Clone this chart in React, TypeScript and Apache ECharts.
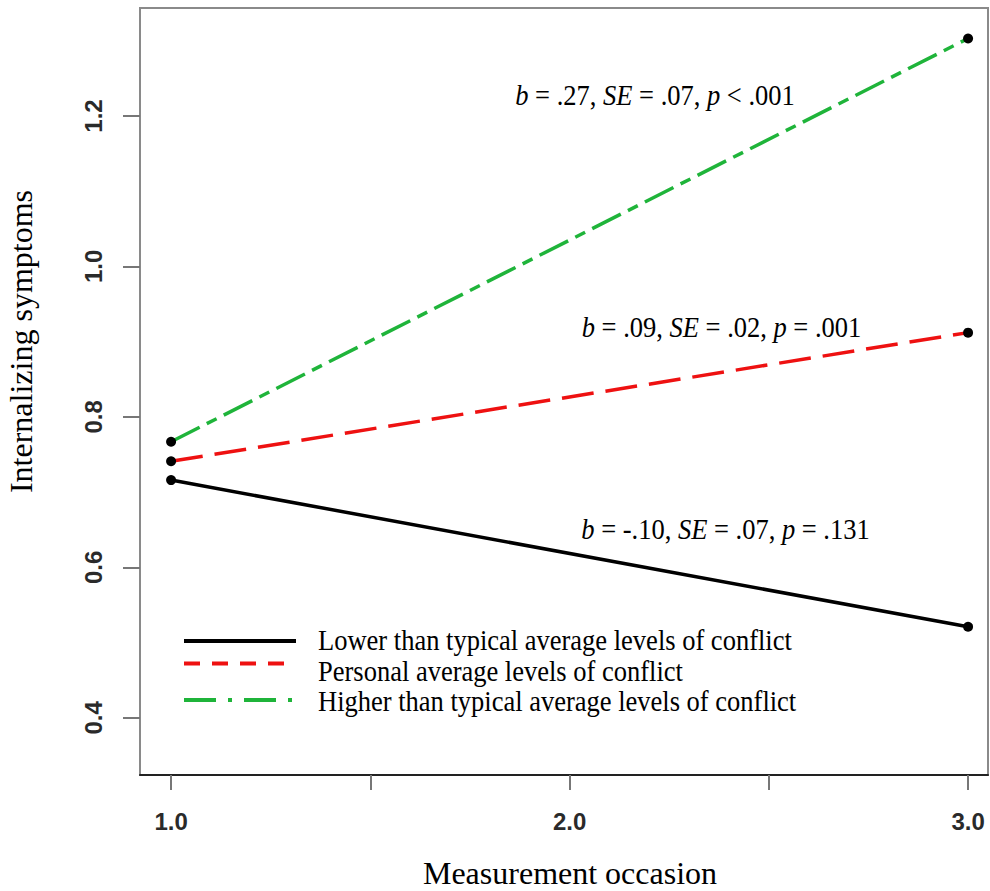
import React, { useEffect, useRef } from "react";
import * as echarts from "echarts";

const occasions = [1, 3];
const seriesNames = [
  "Lower than typical average levels of conflict",
  "Personal average levels of conflict",
  "Higher than typical average levels of conflict",
];
const lowerValues = [0.716, 0.521];
const personalValues = [0.741, 0.912];
const higherValues = [0.767, 1.303];
const xTickValues = [1, 1.5, 2, 2.5, 3];
const xLabelValues = [1, 2, 3];
const yTickValues = [0.4, 0.6, 0.8, 1.0, 1.2];
const annotations = [
  "{i|b} = .27, {i|SE} = .07, {i|p} < .001",
  "{i|b} = .09, {i|SE} = .02, {i|p} = .001",
  "{i|b} = -.10, {i|SE} = .07, {i|p} = .131",
];

const SERIF = "'Liberation Serif', 'Times New Roman', serif";
const SANS = "'Liberation Sans', Arial, sans-serif";

export default function App() {
  const ref = useRef<HTMLDivElement>(null);
  useEffect(() => {
    document.body.style.margin = "0";
    const chart = echarts.init(ref.current!, null, { renderer: "svg" });
    const colors = ["#000000", "#ee1111", "#1fb43a"];
    const dashes: any[] = ["solid", [32, 12], [32, 8, 11, 8]];
    const vals = [lowerValues, personalValues, higherValues];
    const legendDashes: any[] = [null, [16, 12], [32, 12, 4, 12]];
    const legendLineY = [641, 663.5, 700];
    const legendTextY = [640, 671.5, 701];
    const annPos = [
      [655, 95],
      [721.5, 327.5],
      [725.5, 529],
    ];
    const FS = 26.5;
    const richStyle = {
      i: { fontStyle: "italic", fontFamily: SERIF, fontSize: FS, fill: "#000" },
    };
    const graphics: any[] = [];
    seriesNames.forEach((name, k) => {
      graphics.push({
        type: "line",
        shape: { x1: 184, y1: legendLineY[k], x2: 296, y2: legendLineY[k] },
        style: {
          stroke: colors[k],
          lineWidth: 4,
          lineDash: legendDashes[k] || undefined,
        },
      });
      graphics.push({
        type: "text",
        x: 318,
        y: legendTextY[k],
        scaleY: 1.08,
        style: {
          text: name,
          fontFamily: SERIF,
          fontSize: FS,
          fill: "#000",
          verticalAlign: "middle",
          textAlign: "left",
        },
      });
    });
    annotations.forEach((t, k) => {
      graphics.push({
        type: "text",
        x: annPos[k][0],
        y: annPos[k][1],
        scaleY: 1.08,
        style: {
          text: t,
          rich: richStyle,
          fontFamily: SERIF,
          fontSize: FS,
          fill: "#000",
          textAlign: "center",
          verticalAlign: "middle",
        },
      });
    });

    chart.setOption({
      animation: false,
      grid: {
        left: 140,
        right: 2,
        top: 8,
        bottom: 116,
        show: true,
        borderColor: "#8a8a8a",
        borderWidth: 2,
        backgroundColor: "#fff",
        outerBoundsMode: "none",
        containLabel: false,
      },
      xAxis: {
        type: "value",
        min: 0.922,
        max: 3.05,
        name: "Measurement occasion",
        nameLocation: "middle",
        nameGap: 82,
        nameTextStyle: {
          fontFamily: SERIF,
          fontSize: 32,
          color: "#000",
          padding: [0, 0, 0, 12],
        },
        splitLine: { show: false },
        axisLine: { show: true, onZero: false, lineStyle: { color: "#222", width: 2 } },
        axisTick: {
          show: true,
          length: 15,
          customValues: xTickValues,
          lineStyle: { color: "#777", width: 2 },
        },
        axisLabel: {
          customValues: xLabelValues,
          formatter: (v: number) => v.toFixed(1),
          fontFamily: SANS,
          fontWeight: "bold",
          fontSize: 24,
          color: "#2a2a2a",
          margin: 34,
        },
      },
      yAxis: {
        type: "value",
        min: 0.324,
        max: 1.3435,
        name: "Internalizing symptoms",
        nameLocation: "middle",
        nameGap: 103,
        nameTextStyle: {
          fontFamily: SERIF,
          fontSize: 32,
          color: "#000",
          padding: [0, 0, 0, 100],
        },
        splitLine: { show: false },
        axisLine: { show: true, onZero: false, lineStyle: { color: "#8a8a8a", width: 2 } },
        axisTick: {
          show: true,
          length: 17,
          customValues: yTickValues,
          lineStyle: { color: "#777", width: 2 },
        },
        axisLabel: {
          customValues: yTickValues,
          formatter: (v: number) => v.toFixed(1),
          rotate: 90,
          fontFamily: SANS,
          fontWeight: "bold",
          fontSize: 24,
          color: "#2a2a2a",
          margin: 35,
        },
      },
      series: seriesNames.map((name, k) => ({
        name,
        type: "line",
        data: occasions.map((x, i) => [x, vals[k][i]]),
        symbol: "circle",
        symbolSize: 10,
        itemStyle: { color: "#000" },
        lineStyle: { color: colors[k], width: 3.5, type: dashes[k] },
        z: 3 + k,
      })),
      graphic: graphics,
    });
    return () => chart.dispose();
  }, []);
  return (
    <div
      ref={ref}
      style={{ position: "absolute", left: 0, top: 0, width: 990, height: 891 }}
    />
  );
}
